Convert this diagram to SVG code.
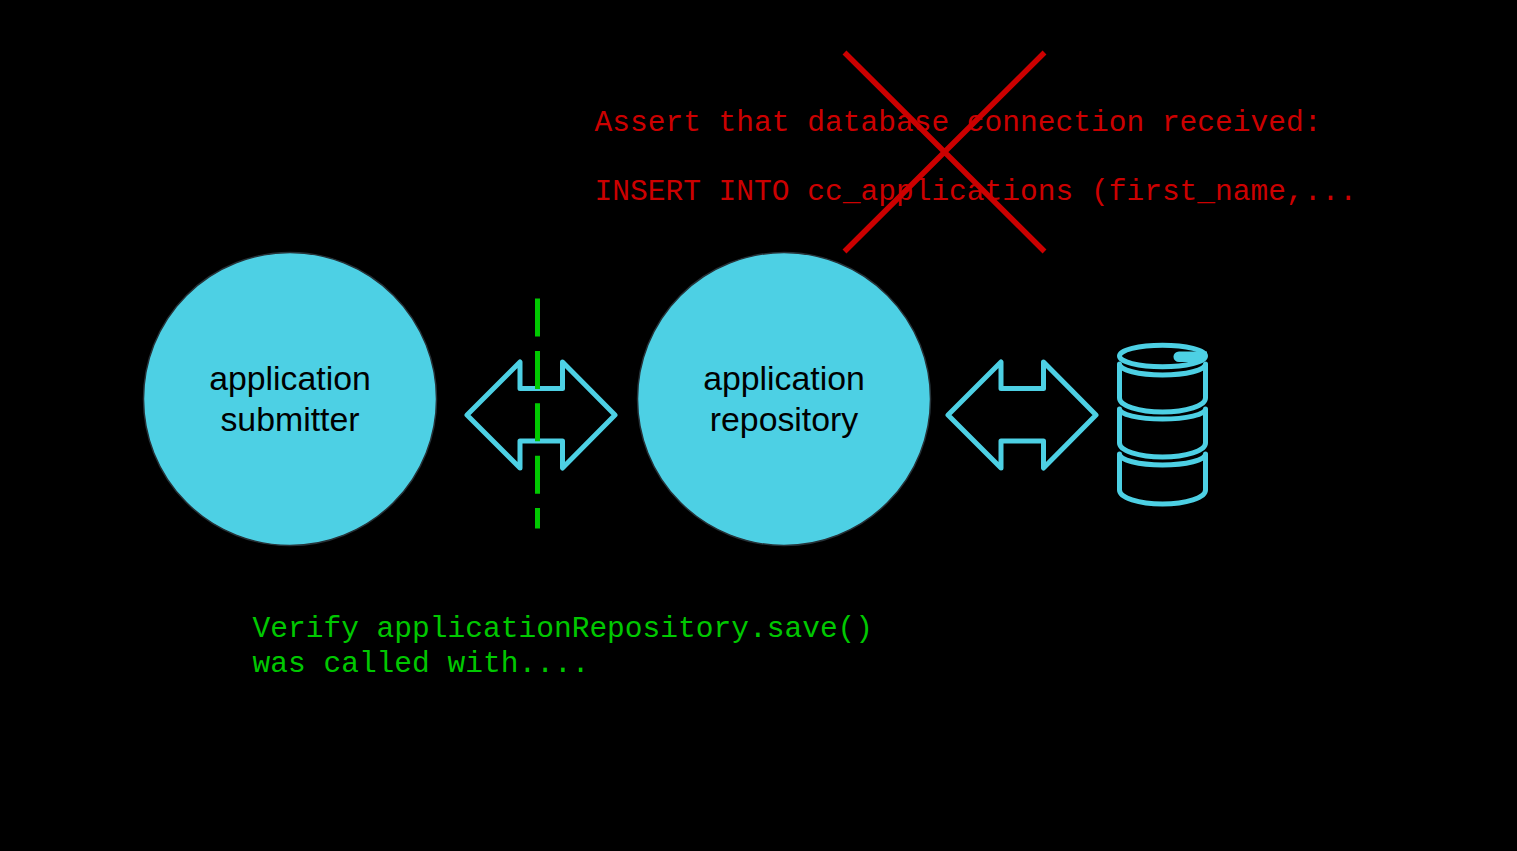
<svg xmlns="http://www.w3.org/2000/svg" width="1517" height="851" viewBox="0 0 1517 851">
<style>
.c{fill:#4dd0e4;stroke:#263238;stroke-width:1.5}
.l{font-family:"Liberation Sans",Arial,sans-serif;font-size:33.85px;fill:#000;text-anchor:middle}
.m{font-family:"Liberation Mono","Courier New",monospace;font-size:29.55px}
.a{fill:none;stroke:#4dd0e4;stroke-width:5;stroke-linejoin:round;stroke-linecap:round}
</style>
<rect width="1517" height="851" fill="#000"/>
<g id="assert-text"><text class="m" x="594.500" y="131" fill="#cc0000">Assert that database connection received:</text>
<text class="m" x="594.500" y="200" fill="#cc0000">INSERT INTO cc_applications (first_name,...</text></g>
<g id="cross" stroke="#cc0000" stroke-width="5.500" fill="none"><path d="M844.500 52.500L1044.500 251.500M1044.500 52.500L844.500 251.500"/></g>
<g id="submitter"><circle class="c" cx="290" cy="399" r="146.500"/><text class="l" x="290" y="390">application</text><text class="l" x="290" y="431">submitter</text></g>
<g id="repository"><circle class="c" cx="784" cy="399" r="146.500"/><text class="l" x="784" y="390">application</text><text class="l" x="784" y="431">repository</text></g>
<g id="connectors">
<path class="a" d="M520 362V388.500H562.500V362L615 415L562.500 468V441H520V468L467 415Z"/>
<path class="a" d="M1001 362V388.500H1043.500V362L1096 415L1043.500 468V441H1001V468L948 415Z"/>
<path d="M537.500 298.500V528.500" stroke="#00c800" stroke-width="5" stroke-dasharray="38 14.400" fill="none"/>
</g>
<g id="database">
<ellipse cx="1162.500" cy="356" rx="43" ry="10.700" fill="none" stroke="#4dd0e4" stroke-width="5"/>
<path d="M1207 351.500H1179A5.500 5.200 0 0 0 1179 362H1198L1207 358Z" fill="#4dd0e4"/>
<path class="a" d="M1119.500 364A43 11 0 0 0 1205.500 364V398A43 14 0 0 1 1119.500 398Z"/>
<path class="a" d="M1119.500 409A43 10 0 0 0 1205.500 409V443A43 14 0 0 1 1119.500 443Z"/>
<path class="a" d="M1119.500 454A43 11 0 0 0 1205.500 454V490A43 14 0 0 1 1119.500 490Z"/>
</g>
<g id="verify-text"><text class="m" x="252.500" y="637" fill="#00c800">Verify applicationRepository.save()</text>
<text class="m" x="252.500" y="672" fill="#00c800">was called with....</text></g>
</svg>
